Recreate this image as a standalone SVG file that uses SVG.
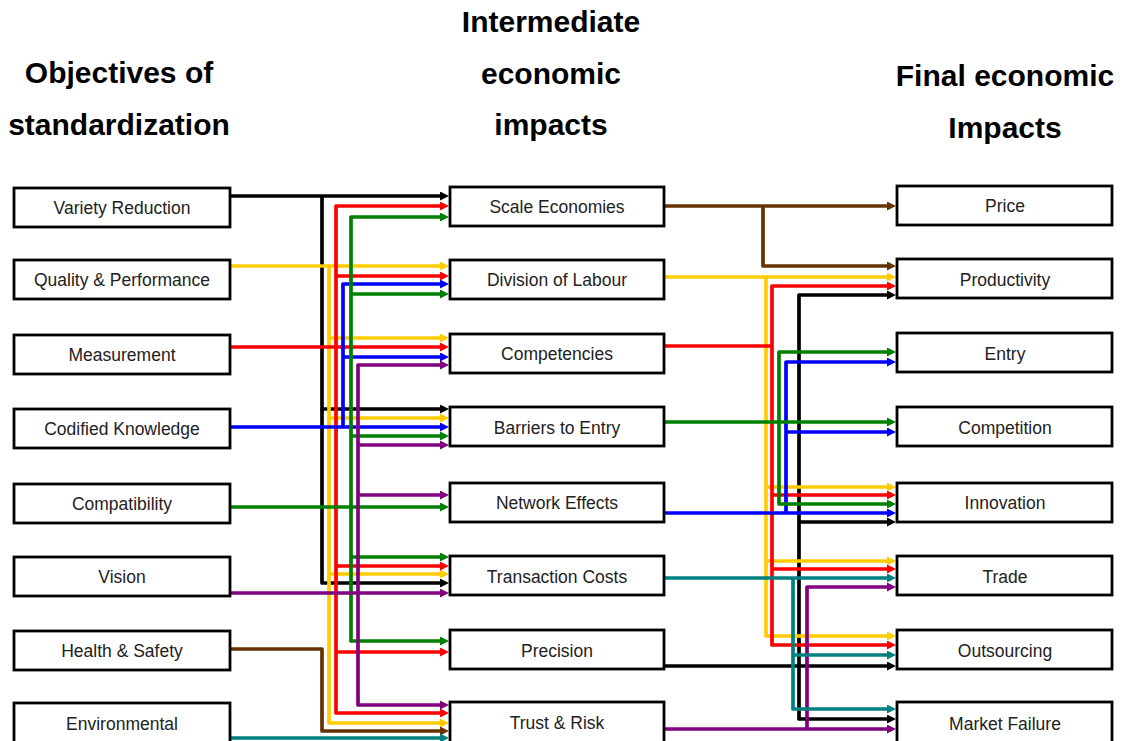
<svg xmlns="http://www.w3.org/2000/svg" width="1123" height="741" viewBox="0 0 1123 741">
<defs>
<style>
.hd{font-family:"Liberation Sans",Arial,sans-serif;font-weight:bold;font-size:30px;fill:#000;text-anchor:middle}
.bx rect{fill:#fff;stroke:#000;stroke-width:2.8}
.bx text{font-family:"Liberation Sans",Arial,sans-serif;font-size:17.5px;fill:#222;text-anchor:middle}
.c path{fill:none;stroke-width:3.7;stroke-linejoin:round}
.k path{stroke:#000}
.r path{stroke:#ff0000}
.y path{stroke:#ffcc00}
.b path{stroke:#0000ff}
.g path{stroke:#008000}
.p path{stroke:#800080}
.n path{stroke:#663300}
.t path{stroke:#008080}
.k path{marker-end:url(#ak)}
.r path{marker-end:url(#ar)}
.y path{marker-end:url(#ay)}
.b path{marker-end:url(#ab)}
.g path{marker-end:url(#ag)}
.p path{marker-end:url(#ap)}
.n path{marker-end:url(#an)}
.t path{marker-end:url(#at)}
.k path.s{marker-start:url(#ak)}
.r path.s{marker-start:url(#ar)}
.y path.s{marker-start:url(#ay)}
.b path.s{marker-start:url(#ab)}
.g path.s{marker-start:url(#ag)}
.p path.s{marker-start:url(#ap)}
.c path.x{marker-end:none}
</style>
<marker id="ak" markerUnits="userSpaceOnUse" markerWidth="10" markerHeight="10" refX="4" refY="4.5" orient="auto-start-reverse"><path d="M0,0 L9,4.5 L0,9 z" fill="#000"/></marker>
<marker id="ar" markerUnits="userSpaceOnUse" markerWidth="10" markerHeight="10" refX="4" refY="4.5" orient="auto-start-reverse"><path d="M0,0 L9,4.5 L0,9 z" fill="#ff0000"/></marker>
<marker id="ay" markerUnits="userSpaceOnUse" markerWidth="10" markerHeight="10" refX="4" refY="4.5" orient="auto-start-reverse"><path d="M0,0 L9,4.5 L0,9 z" fill="#ffcc00"/></marker>
<marker id="ab" markerUnits="userSpaceOnUse" markerWidth="10" markerHeight="10" refX="4" refY="4.5" orient="auto-start-reverse"><path d="M0,0 L9,4.5 L0,9 z" fill="#0000ff"/></marker>
<marker id="ag" markerUnits="userSpaceOnUse" markerWidth="10" markerHeight="10" refX="4" refY="4.5" orient="auto-start-reverse"><path d="M0,0 L9,4.5 L0,9 z" fill="#008000"/></marker>
<marker id="ap" markerUnits="userSpaceOnUse" markerWidth="10" markerHeight="10" refX="4" refY="4.5" orient="auto-start-reverse"><path d="M0,0 L9,4.5 L0,9 z" fill="#800080"/></marker>
<marker id="an" markerUnits="userSpaceOnUse" markerWidth="10" markerHeight="10" refX="4" refY="4.5" orient="auto-start-reverse"><path d="M0,0 L9,4.5 L0,9 z" fill="#663300"/></marker>
<marker id="at" markerUnits="userSpaceOnUse" markerWidth="10" markerHeight="10" refX="4" refY="4.5" orient="auto-start-reverse"><path d="M0,0 L9,4.5 L0,9 z" fill="#008080"/></marker>
</defs>
<rect width="1123" height="741" fill="#fff"/>

<g id="headers">
<text class="hd" x="119" y="83">Objectives of</text>
<text class="hd" x="119" y="135">standardization</text>
<text class="hd" x="551" y="32">Intermediate</text>
<text class="hd" x="551" y="84">economic</text>
<text class="hd" x="551" y="135">impacts</text>
<text class="hd" x="1005" y="86">Final economic</text>
<text class="hd" x="1005" y="138">Impacts</text>
</g>

<g id="connectors" class="c">
<g class="k">
<path d="M230,196 H444"/>
<path d="M322,196 V409 H444"/>
<path d="M322,409 V583 H444"/>
<path class="s" d="M891,295 H799 V719 H891"/>
<path d="M799,522 H891"/>
<path d="M664,666 H891"/>
</g>
<g class="y">
<path d="M230,266 H444"/>
<path d="M329,266 V723 H444"/>
<path d="M329,338 H444"/>
<path d="M329,418 H444"/>
<path d="M329,574 H444"/>
<path d="M664,277 H891"/>
<path d="M766,277 V636 H891"/>
<path d="M766,487 H891"/>
<path d="M766,561 H891"/>
</g>
<g class="r">
<path d="M230,347 H444"/>
<path class="s" d="M444,206 H336 V713 H444"/>
<path d="M336,276 H444"/>
<path d="M336,566 H444"/>
<path d="M336,652 H444"/>
<path class="x" d="M664,346 H772"/>
<path class="s" d="M891,286 H772 V645 H891"/>
<path d="M772,495 H891"/>
<path d="M772,569 H891"/>
</g>
<g class="b">
<path d="M230,427 H444"/>
<path class="s x" d="M444,284 H343 V427"/>
<path d="M343,357 H444"/>
<path d="M664,513 H891"/>
<path class="s x" d="M891,362 H786 V513"/>
<path d="M786,432 H891"/>
</g>
<g class="g">
<path d="M230,507 H444"/>
<path class="s" d="M444,217 H351 V641 H444"/>
<path d="M351,294 H444"/>
<path d="M351,436 H444"/>
<path d="M351,557 H444"/>
<path d="M664,422 H891"/>
<path class="s" d="M891,352 H779 V504 H891"/>
</g>
<g class="p">
<path d="M230,593 H444"/>
<path class="s" d="M444,365 H358 V705 H444"/>
<path d="M358,445 H444"/>
<path d="M358,495 H444"/>
<path d="M664,729 H891"/>
<path class="s x" d="M891,587 H807 V729"/>
</g>
<g class="n">
<path d="M230,649 H322 V731 H444"/>
<path d="M664,206 H891"/>
<path d="M763,206 V266 H891"/>
</g>
<g class="t">
<path d="M230,738 H444"/>
<path d="M664,578 H891"/>
<path d="M793,578 V709 H891"/>
<path d="M793,655 H891"/>
</g>
</g>

<g id="n-variety" class="bx"><rect x="14" y="188" width="216" height="39"/><text x="122" y="214">Variety Reduction</text></g>
<g id="n-quality" class="bx"><rect x="14" y="260" width="216" height="39"/><text x="122" y="286">Quality &amp; Performance</text></g>
<g id="n-measurement" class="bx"><rect x="14" y="335" width="216" height="39"/><text x="122" y="361">Measurement</text></g>
<g id="n-codified" class="bx"><rect x="14" y="409" width="216" height="39"/><text x="122" y="435">Codified Knowledge</text></g>
<g id="n-compat" class="bx"><rect x="14" y="484" width="216" height="39"/><text x="122" y="510">Compatibility</text></g>
<g id="n-vision" class="bx"><rect x="14" y="557" width="216" height="39"/><text x="122" y="583">Vision</text></g>
<g id="n-health" class="bx"><rect x="14" y="631" width="216" height="39"/><text x="122" y="657">Health &amp; Safety</text></g>
<g id="n-env" class="bx"><rect x="14" y="703" width="216" height="42"/><text x="122" y="730">Environmental</text></g>

<g id="n-scale" class="bx"><rect x="450" y="187" width="214" height="39"/><text x="557" y="213">Scale Economies</text></g>
<g id="n-division" class="bx"><rect x="450" y="260" width="214" height="39"/><text x="557" y="286">Division of Labour</text></g>
<g id="n-competencies" class="bx"><rect x="450" y="334" width="214" height="39"/><text x="557" y="360">Competencies</text></g>
<g id="n-barriers" class="bx"><rect x="450" y="407" width="214" height="39"/><text x="557" y="434">Barriers to Entry</text></g>
<g id="n-network" class="bx"><rect x="450" y="483" width="214" height="39"/><text x="557" y="509">Network Effects</text></g>
<g id="n-transaction" class="bx"><rect x="450" y="556" width="214" height="39"/><text x="557" y="583">Transaction Costs</text></g>
<g id="n-precision" class="bx"><rect x="450" y="630" width="214" height="39"/><text x="557" y="657">Precision</text></g>
<g id="n-trust" class="bx"><rect x="450" y="702" width="214" height="42"/><text x="557" y="729">Trust &amp; Risk</text></g>

<g id="n-price" class="bx"><rect x="897" y="186" width="215" height="39"/><text x="1005" y="212">Price</text></g>
<g id="n-productivity" class="bx"><rect x="897" y="259" width="215" height="39"/><text x="1005" y="286">Productivity</text></g>
<g id="n-entry" class="bx"><rect x="897" y="333" width="215" height="39"/><text x="1005" y="360">Entry</text></g>
<g id="n-competition" class="bx"><rect x="897" y="407" width="215" height="39"/><text x="1005" y="434">Competition</text></g>
<g id="n-innovation" class="bx"><rect x="897" y="483" width="215" height="39"/><text x="1005" y="509">Innovation</text></g>
<g id="n-trade" class="bx"><rect x="897" y="556" width="215" height="39"/><text x="1005" y="583">Trade</text></g>
<g id="n-outsourcing" class="bx"><rect x="897" y="630" width="215" height="39"/><text x="1005" y="657">Outsourcing</text></g>
<g id="n-market" class="bx"><rect x="897" y="702" width="215" height="42"/><text x="1005" y="730">Market Failure</text></g>
</svg>
